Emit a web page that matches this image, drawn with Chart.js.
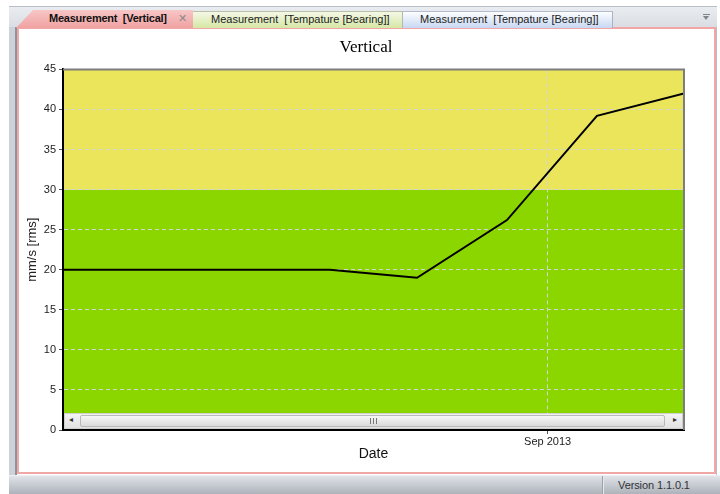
<!DOCTYPE html>
<html>
<head>
<meta charset="utf-8">
<script src="https://cdn.jsdelivr.net/npm/chart.js@4.4.1/dist/chart.umd.min.js"></script>
<style>
  html, body { margin: 0; padding: 0; background: #fff; }
  #app { position: relative; width: 720px; height: 494px; overflow: hidden; font-family: "Liberation Sans", Arial, sans-serif; }
  .strip { position: absolute; left: 9px; top: 6px; width: 708px; height: 22px;
    background: linear-gradient(#e9ecf0, #d9dde3); border-top: 1px solid #b9bdc4; box-sizing: border-box; }
  .side { position: absolute; left: 9px; top: 27px; width: 8px; height: 449px;
    background: linear-gradient(90deg, #cdd2da 0, #cdd2da 6px, #8f9298 6px); }
  .rside { position: absolute; left: 716px; top: 27px; width: 1px; height: 449px; background: #b8bcc3; }
  .panel { position: absolute; left: 17px; top: 27px; width: 699px; height: 447px; box-sizing: border-box;
    border: 2px solid #f2a7a7; background: #fff; }
  .tab { position: absolute; top: 11px; height: 17px; box-sizing: border-box; font-size: 11px; line-height: 15px;
    white-space: nowrap; color: #222; }
  .tab span { position: absolute; top: 0; }
  .t1 { left: 16px; top: 10px; width: 177px; height: 18px;
    background: linear-gradient(#f7c6c6, #f0a2a2);
    clip-path: polygon(0 100%, 17px 0, 100% 0, 100% 100%); }
  .t1 span { font-weight: bold; color: #111; top: 1px; letter-spacing: -0.25px; }
  .t2 { left: 193px; width: 210px; background: linear-gradient(#f4f8e6, #d5e7a5);
    border-top: 1px solid #b8c0a8; border-right: 1px solid #b4b8b0; }
  .t3 { left: 403px; width: 210px; background: linear-gradient(#fdfeff, #c7d7f3);
    border-top: 1px solid #b2bccd; border-right: 1px solid #aab2c2; }
  .drop { position: absolute; left: 703px; top: 14px; width: 7px; height: 1px; background: #80858e; }
  .drop::after { content: ''; position: absolute; left: 0; top: 2px; border-left: 3.5px solid transparent;
    border-right: 3.5px solid transparent; border-top: 4px solid #80858e; }
  #wrap { position: absolute; left: 19px; top: 28px; width: 694px; height: 444px; }
  .scroll { position: absolute; left: 64px; top: 413px; width: 619px; height: 16px; box-sizing: border-box;
    background: linear-gradient(#f3f3f3, #e2e2e2); border: 1px solid #d0d0d0; }
  .scroll .thumb { position: absolute; left: 15px; top: 1px; width: 585px; height: 12px; box-sizing: border-box;
    border: 1px solid #b9b9b9; border-radius: 2px; background: linear-gradient(#f7f7f7, #dadada); }
  .scroll .grip { position: absolute; left: 289px; top: 2px; width: 7px; height: 6px;
    background: repeating-linear-gradient(90deg, #777 0, #777 1px, transparent 1px, transparent 3px); }
  .scroll .arr { position: absolute; top: 1px; font-size: 8px; color: #333; }
  .status { position: absolute; left: 9px; top: 475px; width: 711px; height: 19px;
    background: linear-gradient(#e1e4e9, #c6cad1 50%, #aeb2ba); border-top: 1px solid #eef0f3; box-sizing: border-box; }
  .status .sep { position: absolute; left: 593px; top: 0; width: 1px; height: 19px; background: #9da1a9; border-right: 1px solid #e6e8ec; }
  .status .ver { position: absolute; left: 609px; top: 3px; font-size: 11px; color: #333; letter-spacing: -0.1px; }
</style>
</head>
<body>
<div id="app">
  <div class="strip"></div>
  <div class="side"></div>
  <div class="rside"></div>
  <div class="panel"></div>
  <div class="tab t1"><span style="left:33px">Measurement&nbsp; [Vertical]</span><span style="left:162px;font-weight:normal;color:#8a8a8a">✕</span></div>
  <div class="tab t2"><span style="left:18px">Measurement&nbsp; [Tempature [Bearing]]</span></div>
  <div class="tab t3"><span style="left:17px">Measurement&nbsp; [Tempature [Bearing]]</span></div>
  <div class="drop"></div>
  <div id="wrap"><canvas id="chart"></canvas></div>
  <div class="scroll">
    <span class="arr" style="left:4px">◂</span>
    <div class="thumb"><span class="grip"></span></div>
    <span class="arr" style="left:608px">▸</span>
  </div>
  <div class="status"><div class="sep"></div><span class="ver">Version 1.1.0.1</span></div>
</div>
<script>
// Data
const dates = ['2013-03-18', '2013-04-18', '2013-05-18', '2013-06-18', '2013-07-18', '2013-08-18', '2013-09-18', '2013-10-18'];
const vertical = [20, 20, 20, 20, 19, 26.2, 39.2, 42];
const yTicks = [0, 5, 10, 15, 20, 25, 30, 35, 40, 45];
const xTickDates = ['2013-09-01'];
const xTickLabels = ['Sep 2013'];
const zoneLimits = [0, 30, 45];

const dayOf = s => Date.parse(s) / 864e5;

// Coloured zones behind the grid, plus grey top/right frame
const zones = {
  id: 'zones',
  beforeDraw(chart) {
    const { ctx, chartArea: a, scales: { y } } = chart;
    const colors = ['#8cd600', '#ebe55b'];
    for (let i = 0; i < zoneLimits.length - 1; i++) {
      const top = y.getPixelForValue(zoneLimits[i + 1]);
      const bot = y.getPixelForValue(zoneLimits[i]);
      ctx.fillStyle = colors[i];
      ctx.fillRect(a.left, top, a.right - a.left, bot - top);
    }
  },
  afterDraw(chart) {
    const { ctx, chartArea: a } = chart;
    ctx.save();
    ctx.strokeStyle = '#7d7d7d';
    ctx.lineWidth = 2;
    ctx.beginPath();
    ctx.moveTo(a.left, a.top);
    ctx.lineTo(a.right, a.top);
    ctx.lineTo(a.right, a.bottom);
    ctx.stroke();
    ctx.restore();
  }
};

const gridStyle = {
  color: '#d4d4d4',
  tickLength: 4,
  tickColor: '#555',
  tickBorderDash: []
};

new Chart(document.getElementById('chart'), {
  type: 'line',
  data: {
    datasets: [{
      data: dates.map((d, i) => ({ x: dayOf(d), y: vertical[i] })),
      borderColor: '#000',
      borderWidth: 2,
      pointRadius: 0,
      tension: 0,
      fill: false
    }]
  },
  plugins: [zones],
  options: {
    responsive: true,
    maintainAspectRatio: false,
    devicePixelRatio: 1,
    animation: false,
    layout: { padding: 0 },
    font: { family: '"Liberation Sans", Arial, sans-serif' },
    plugins: {
      legend: { display: false },
      tooltip: { enabled: false },
      title: {
        display: true,
        text: 'Vertical',
        color: '#000',
        font: { family: '"Liberation Serif", "Times New Roman", serif', size: 17, weight: 'normal' },
        padding: { top: 9, bottom: 12 }
      }
    },
    scales: {
      x: {
        type: 'linear',
        min: dayOf(dates[0]),
        max: dayOf(dates[dates.length - 1]),
        afterBuildTicks: s => { s.ticks = xTickDates.map(d => ({ value: dayOf(d) })); },
        afterFit: s => { s.height = 42; },
        ticks: {
          callback: (v, i) => xTickLabels[i],
          color: '#222',
          font: { size: 11 },
          padding: 1,
          maxRotation: 0,
          autoSkip: false
        },
        grid: gridStyle,
        border: { color: '#000', width: 2, dash: [4, 3] },
        title: {
          display: true,
          text: 'Date',
          color: '#111',
          font: { size: 14 },
          padding: { top: 0, bottom: 9 }
        }
      },
      y: {
        min: 0,
        max: 45,
        afterBuildTicks: s => { s.ticks = yTicks.map(v => ({ value: v })); },
        afterFit: s => { s.width = 44; },
        ticks: { color: '#222', font: { size: 11 }, padding: 3 },
        grid: gridStyle,
        border: { color: '#000', width: 2, dash: [4, 3] },
        title: {
          display: true,
          text: 'mm/s [rms]',
          color: '#222',
          font: { size: 13 },
          padding: { top: 6, bottom: 0 }
        }
      },
      y2: {
        position: 'right',
        display: true,
        afterFit: s => { s.width = 29; },
        ticks: { display: false },
        grid: { display: false, drawTicks: false },
        border: { display: false }
      }
    }
  }
});
</script>
</body>
</html>
